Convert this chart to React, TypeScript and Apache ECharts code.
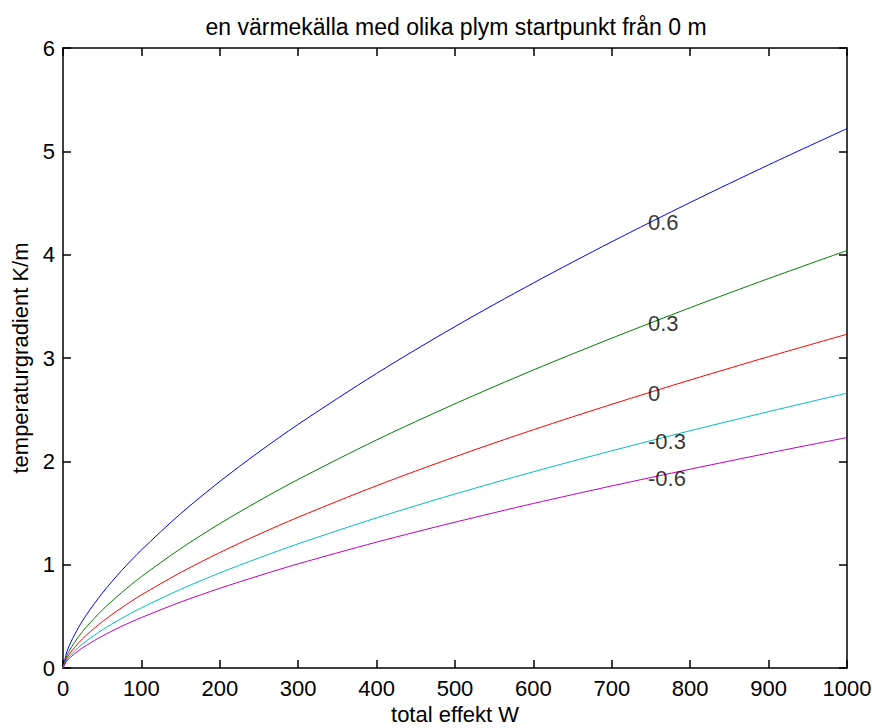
import React, { useEffect, useRef } from "react";
import * as echarts from "echarts";

const effekt = [0, 5, 10, 20, 30, 50, 75, 100, 150, 200, 250, 300, 400, 500, 600, 700, 800, 900, 1000];
const seriesNames = ["0.6", "0.3", "0", "-0.3", "-0.6"];
const seriesColors = ["#0000ff", "#008000", "#ff0000", "#00bfbf", "#bf00bf"];
const blue06 = [0, 0.158, 0.25, 0.395, 0.516, 0.723, 0.945, 1.142, 1.493, 1.805, 2.091, 2.358, 2.851, 3.304, 3.726, 4.125, 4.505, 4.869, 5.22];
const green03 = [0, 0.122, 0.193, 0.305, 0.399, 0.56, 0.731, 0.884, 1.155, 1.397, 1.618, 1.825, 2.207, 2.557, 2.884, 3.192, 3.487, 3.769, 4.04];
const red0 = [0, 0.098, 0.154, 0.244, 0.319, 0.447, 0.585, 0.707, 0.924, 1.117, 1.294, 1.459, 1.764, 2.044, 2.306, 2.552, 2.787, 3.013, 3.23];
const cyanM03 = [0, 0.081, 0.127, 0.201, 0.263, 0.368, 0.481, 0.582, 0.761, 0.92, 1.065, 1.202, 1.453, 1.684, 1.899, 2.102, 2.296, 2.481, 2.66];
const magentaM06 = [0, 0.068, 0.107, 0.169, 0.22, 0.309, 0.404, 0.488, 0.638, 0.771, 0.893, 1.008, 1.218, 1.411, 1.592, 1.762, 1.924, 2.08, 2.23];
const labelX = 750;
const labelY = [4.32, 3.34, 2.67, 2.2, 1.84];

const FONT = "'Liberation Sans', Arial, sans-serif";

export default function App() {
  const ref = useRef<HTMLDivElement>(null);
  useEffect(() => {
    if (!ref.current) return;
    const chart = echarts.init(ref.current, null, { renderer: "svg" });
    const curves = [blue06, green03, red0, cyanM03, magentaM06];
    const lineSeries = curves.map((vals, i) => ({
      type: "line",
      name: seriesNames[i],
      data: effekt.map((x, j) => [x, vals[j]]),
      smooth: 0.3,
      showSymbol: false,
      symbol: "none",
      lineStyle: { color: seriesColors[i], width: 1 },
      xAxisIndex: 0,
      yAxisIndex: 0,
      silent: true,
    }));
    const labelSeries = {
      type: "scatter",
      symbolSize: 0,
      xAxisIndex: 0,
      yAxisIndex: 0,
      data: labelY.map((y, i) => ({ value: [labelX, y], name: seriesNames[i] })),
      label: {
        show: true,
        position: "right",
        distance: 0,
        offset: [-3, 1],
        formatter: (p: any) => p.name,
        color: "#000",
        fontFamily: FONT,
        fontSize: 22,
      },
      silent: true,
      z: 10,
    };
    const axisCommon = {
      type: "value",
      axisLine: { show: true, onZero: false, lineStyle: { color: "#000", width: 1.5 } },
      axisTick: { show: true, inside: true, length: 8, lineStyle: { color: "#000", width: 1.5 } },
      splitLine: { show: false },
    };
    chart.setOption({
      animation: false,
      backgroundColor: "#fff",
      title: {
        text: "en värmekälla med olika plym startpunkt från 0 m",
        left: 451,
        top: 10,
        textAlign: "center",
        textStyle: { fontFamily: FONT, fontSize: 23, fontWeight: "normal", color: "#000" },
      },
      grid: { left: 63, right: 25, top: 48, bottom: 60, containLabel: false, outerBoundsMode: "none" },
      xAxis: [
        {
          ...axisCommon,
          position: "bottom",
          min: 0,
          max: 1000,
          interval: 100,
          name: "total effekt W",
          nameLocation: "middle",
          nameGap: 33,
          nameTextStyle: { fontFamily: FONT, fontSize: 22, color: "#000" },
          axisLabel: { fontFamily: FONT, fontSize: 22, color: "#000", margin: 9, formatter: (v: number) => String(v) },
        },
        {
          ...axisCommon,
          position: "top",
          min: 0,
          max: 1000,
          interval: 100,
          axisLabel: { show: false },
        },
      ],
      yAxis: [
        {
          ...axisCommon,
          position: "left",
          min: 0,
          max: 6,
          interval: 1,
          name: "temperaturgradient K/m",
          nameLocation: "middle",
          nameGap: 30,
          nameTextStyle: { fontFamily: FONT, fontSize: 22, color: "#000" },
          axisLabel: { fontFamily: FONT, fontSize: 22, color: "#000", margin: 8, formatter: (v: number) => String(v) },
        },
        {
          ...axisCommon,
          position: "right",
          min: 0,
          max: 6,
          interval: 1,
          axisLabel: { show: false },
        },
      ],
      series: [...lineSeries, labelSeries],
    });
    return () => chart.dispose();
  }, []);
  return <div ref={ref} style={{ width: 872, height: 728, position: "absolute", left: 0, top: 0 }} />;
}
